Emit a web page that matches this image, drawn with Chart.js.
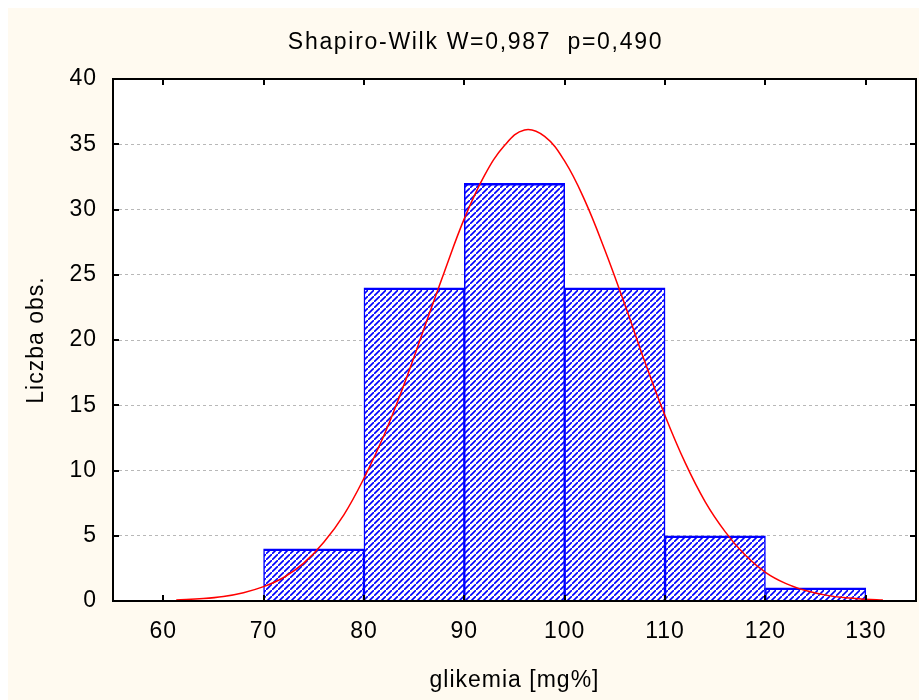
<!DOCTYPE html>
<html>
<head>
<meta charset="utf-8">
<title>Histogram glikemia</title>
<script src="https://cdn.jsdelivr.net/npm/chart.js@4/dist/chart.umd.min.js"></script>
<style>
  html, body { margin: 0; padding: 0; background: #ffffff; overflow: hidden; }
  .frame { position: absolute; left: 8px; top: 8px; width: 911px; height: 692px; background: #fffaf0; }
  canvas { display: block; }
</style>
</head>
<body>
<div class="frame"><canvas id="histChart" width="911" height="692"></canvas></div>
<script>
/* ---------------- Data ---------------- */
const chartTitle = "Shapiro-Wilk W=0,987  p=0,490";
const xTitle = "glikemia [mg%]";
const yTitle = "Liczba obs.";

// histogram bins (start of each 10 mg% class) and counts
const binStarts = [70, 80, 90, 100, 110, 120];
const binCounts = [4, 24, 32, 24, 5, 1];
const binWidth = 10;

// fitted normal curve
const curveX = [61.3, 64, 66, 68, 70, 72, 74, 76, 78, 80, 82, 84, 86, 88, 90, 92, 94, 96,
                98, 100, 102, 104, 106, 108, 110, 112, 114, 116, 118, 120, 122, 124, 126, 128, 130, 131.7];
const curveY = [0.08, 0.19, 0.35, 0.64, 1.1, 1.8, 2.9, 4.5, 6.6, 9.4, 12.7, 16.6, 20.9, 25.2, 29.3, 32.6, 34.9, 36.1,
                35.6, 33.7, 30.7, 26.9, 22.7, 18.3, 14.2, 10.6, 7.6, 5.3, 3.5, 2.2, 1.35, 0.8, 0.45, 0.24, 0.13, 0.07];

// axis ticks
const xTickValues = [60, 70, 80, 90, 100, 110, 120, 130];
const yTickValues = [0, 5, 10, 15, 20, 25, 30, 35, 40];

/* ---------------- Hatch fill for the bars ---------------- */
function makeHatch() {
  const tile = document.createElement("canvas");
  tile.width = 6;
  tile.height = 6;
  const t = tile.getContext("2d");
  t.fillStyle = "#ffffff";
  t.fillRect(0, 0, 6, 6);
  t.strokeStyle = "#0000ff";
  t.lineWidth = 1.6;
  t.beginPath();
  t.moveTo(-1, 7);
  t.lineTo(7, -1);
  t.stroke();
  return t.createPattern(tile, "repeat");
}

/* ---------------- Plot background, frame, inner ticks, title ---------------- */
const framePlugin = {
  id: "frame",
  beforeDraw(chart) {
    const { ctx, chartArea: a } = chart;
    ctx.save();
    ctx.fillStyle = "#ffffff";
    ctx.fillRect(a.left, a.top, a.right - a.left, a.bottom - a.top);
    ctx.restore();
    ctx.letterSpacing = "1px";
  },
  afterDatasetsDraw(chart) {
    const { ctx, chartArea: a, scales } = chart;
    const len = 6;
    ctx.save();
    ctx.strokeStyle = "#000000";
    ctx.lineWidth = 2;
    ctx.beginPath();
    xTickValues.forEach((v) => {
      const px = Math.round(scales.x.getPixelForValue(v));
      ctx.moveTo(px, a.bottom); ctx.lineTo(px, a.bottom - len);
      ctx.moveTo(px, a.top); ctx.lineTo(px, a.top + len);
    });
    yTickValues.forEach((v) => {
      const py = Math.round(scales.y.getPixelForValue(v));
      ctx.moveTo(a.left, py); ctx.lineTo(a.left + len, py);
      ctx.moveTo(a.right, py); ctx.lineTo(a.right - len, py);
    });
    ctx.stroke();
    ctx.strokeRect(a.left, a.top, a.right - a.left, a.bottom - a.top);
    ctx.restore();
  },
  afterDraw(chart) {
    const { ctx, chartArea: a } = chart;
    ctx.save();
    ctx.letterSpacing = "1.7px";
    ctx.font = '23px "Liberation Sans", Arial, sans-serif';
    ctx.fillStyle = "#000000";
    ctx.textAlign = "center";
    ctx.textBaseline = "middle";
    ctx.fillText(chartTitle, (a.left + a.right) / 2 - 39, 35);
    ctx.restore();
  }
};

/* ---------------- Chart ---------------- */
function renderHistogram() {
  const ctx = document.getElementById("histChart");
  const font = { family: '"Liberation Sans", Arial, sans-serif', size: 23 };

  new Chart(ctx, {
    type: "bar",
    data: {
      datasets: [
        {
          type: "line",
          order: 0,
          data: curveX.map((x, i) => ({ x: x, y: curveY[i] })),
          borderColor: "#ff0000",
          borderWidth: 1.5,
          pointRadius: 0,
          tension: 0.4,
          fill: false
        },
        {
          type: "bar",
          order: 1,
          data: binStarts.map((s, i) => ({ x: s + binWidth / 2, y: binCounts[i] })),
          backgroundColor: makeHatch(),
          borderColor: "#0000ff",
          borderWidth: { top: 2.5, left: 1.5, right: 1.5, bottom: 0 },
          barPercentage: 1,
          categoryPercentage: 1
        }
      ]
    },
    options: {
      responsive: false,
      animation: false,
      layout: { padding: { top: 71, right: 3, left: 0, bottom: 0 } },
      plugins: { legend: { display: false }, tooltip: { enabled: false } },
      scales: {
        x: {
          type: "linear",
          min: 55,
          max: 135,
          offset: false,
          grid: { display: false, drawTicks: false, offset: false },
          border: { display: false },
          ticks: { stepSize: 10, padding: 17, color: "#000000", font: font, maxRotation: 0 },
          afterBuildTicks: (s) => { s.ticks = xTickValues.map((v) => ({ value: v })); },
          afterFit: (s) => { s.height = 99; },
          title: { display: true, text: xTitle, color: "#000000", font: font, padding: { top: 0, bottom: 6 } }
        },
        y: {
          min: 0,
          max: 40,
          grid: { color: "#b8b8b8", lineWidth: 1, drawTicks: false },
          border: { display: false, dash: [3, 3] },
          ticks: { stepSize: 5, padding: 16, color: "#000000", font: font },
          afterBuildTicks: (s) => { s.ticks = yTickValues.map((v) => ({ value: v })); },
          afterFit: (s) => { s.width = 105; },
          title: { display: true, text: yTitle, color: "#000000", font: font, padding: { top: 15, bottom: 0 } }
        }
      }
    },
    plugins: [framePlugin]
  });
}

document.addEventListener("DOMContentLoaded", renderHistogram);
</script>
</body>
</html>
